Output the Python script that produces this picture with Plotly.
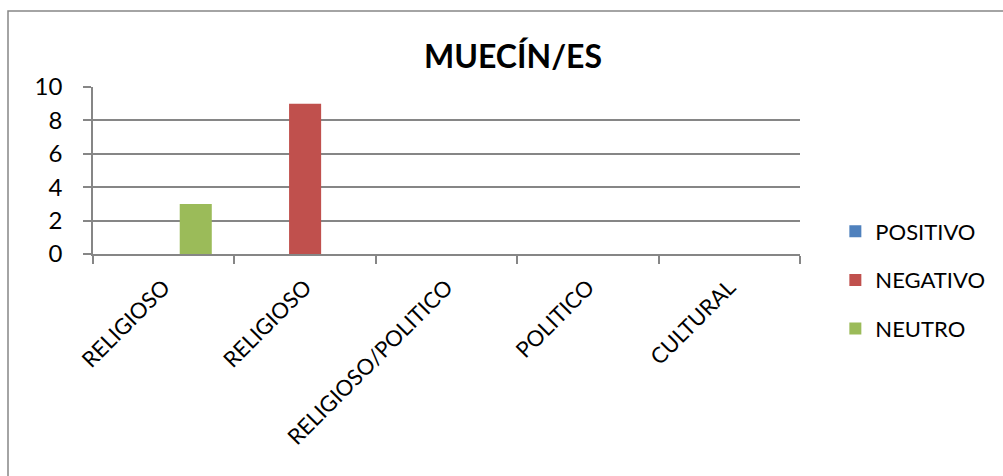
import plotly.graph_objects as go

categories = ["RELIGIOSO", "RELIGIOSO", "RELIGIOSO/POLITICO", "POLITICO", "CULTURAL"]
positivo = [0, 0, 0, 0, 0]
negativo = [0, 9, 0, 0, 0]
neutro = [3, 0, 0, 0, 0]

series = [
    ("POSITIVO", positivo, "#4F81BD"),
    ("NEGATIVO", negativo, "#C0504D"),
    ("NEUTRO", neutro, "#9BBB59"),
]

FONT = "Lato"
GRID = "#868686"
x_pos = list(range(len(categories)))

fig = go.Figure()
for name, vals, color in series:
    fig.add_trace(go.Bar(
        x=x_pos, y=vals, name=name, legendgroup=name,
        marker=dict(color=color, line=dict(width=0)),
    ))

fig.update_layout(
    width=1003, height=476,
    margin=dict(l=93, r=203, t=87, b=222),
    plot_bgcolor="white", paper_bgcolor="white",
    barmode="group", bargap=0.32, bargroupgap=0,
    font=dict(family=FONT, size=22, color="black"),
    title=dict(text="<b>MUECÍN/ES</b>", x=513 / 1003, xanchor="center",
               y=1 - 57 / 476, yanchor="middle",
               font=dict(family=FONT, size=32, color="black")),
    legend=dict(x=1.05, xanchor="left", y=(254 - 280) / 167, yanchor="middle",
                tracegroupgap=17, font=dict(family=FONT, size=22),
                bgcolor="rgba(0,0,0,0)"),
    shapes=[dict(type="rect", xref="paper", yref="paper",
                 x0=(8 - 93) / 707, x1=1.5, y0=-2, y1=1 + (87 - 11) / 167,
                 line=dict(color=GRID, width=1.5), layer="below")],
)

fig.update_xaxes(
    range=[-0.5, len(categories) - 0.5],
    tickvals=x_pos, ticktext=categories, tickangle=-45,
    ticks="", showgrid=False,
    showline=True, linecolor=GRID, linewidth=1.5,
    minor=dict(tickvals=[i - 0.5 for i in range(len(categories) + 1)],
               ticks="outside", ticklen=8, tickcolor=GRID, tickwidth=1.5,
               showgrid=False),
    ticklabelstandoff=10,
    tickfont=dict(family=FONT, size=22),
)
fig.update_yaxes(
    range=[0, 10], dtick=2,
    showgrid=True, gridcolor=GRID, gridwidth=1.5,
    showline=True, linecolor=GRID, linewidth=1.5,
    ticks="outside", ticklen=8, tickcolor=GRID, tickwidth=1.5,
    ticklabelstandoff=16, zeroline=False,
    tickfont=dict(family=FONT, size=24),
)

# the page body has a default 8px margin; drop it so the figure sits at 0,0
fig.write_html("out.html", config={"displayModeBar": False},
               post_script="document.body.style.margin = '0';")
